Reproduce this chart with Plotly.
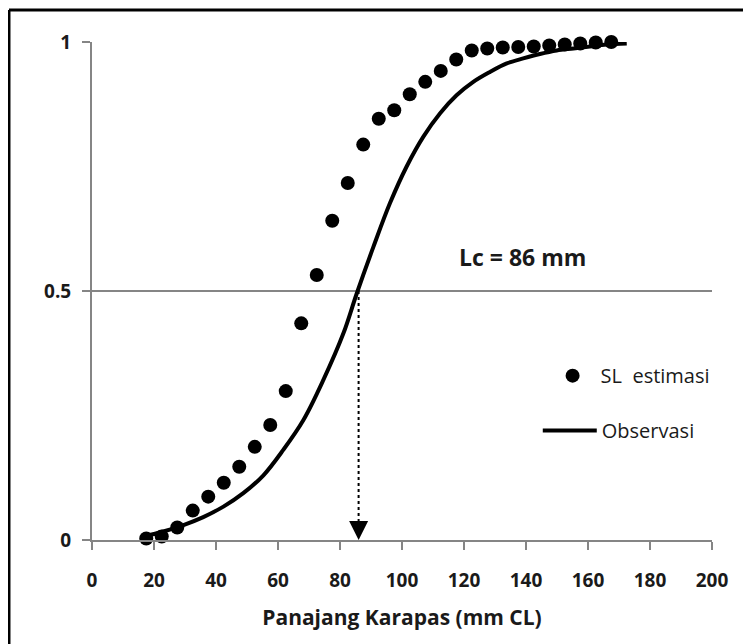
import plotly.graph_objects as go

# ---- data ----
sl_x = [17.5, 22.5, 27.5, 32.5, 37.5, 42.5, 47.5, 52.5, 57.5, 62.5, 67.5,
        72.5, 77.5, 82.5, 87.5, 92.5, 97.5, 102.5, 107.5, 112.5, 117.5,
        122.5, 127.5, 132.5, 137.5, 142.5, 147.5, 152.5, 157.5, 162.5, 167.5]
sl_y = [0.003, 0.007, 0.025, 0.059, 0.087, 0.115, 0.147, 0.187, 0.231, 0.299,
        0.435, 0.532, 0.641, 0.717, 0.794, 0.846, 0.863, 0.895, 0.920, 0.942,
        0.965, 0.983, 0.987, 0.989, 0.990, 0.991, 0.993, 0.995, 0.997, 0.999, 1.000]

obs_x = [16.6, 23.0, 29.5, 35.9, 42.4, 48.8, 55.3, 61.7, 68.2, 74.6, 81.1,
         85.4, 90.8, 96.1, 101.5, 106.9, 112.3, 117.6, 123.0, 128.4, 133.8,
         139.1, 144.5, 149.9, 155.3, 160.6, 166.0, 172.5]
obs_y = [0.007, 0.017, 0.030, 0.046, 0.067, 0.094, 0.130, 0.181, 0.241, 0.321,
         0.415, 0.495, 0.589, 0.676, 0.750, 0.810, 0.857, 0.893, 0.920, 0.940,
         0.957, 0.967, 0.976, 0.983, 0.987, 0.991, 0.995, 0.997]

Lc = 86
x_ticks = [0, 20, 40, 60, 80, 100, 120, 140, 160, 180, 200]
y_ticks = [0, 0.5, 1]
y_ticktext = ["0", "0.5", "1"]

FONT = "Open Sans"
GRID = "#858585"
TXT = "#1a1a1a"

fig = go.Figure()
fig.add_trace(go.Scatter(
    x=sl_x, y=sl_y, mode="markers", name="SL  estimasi",
    marker=dict(color="black", size=14), cliponaxis=False, legend="legend"))
fig.add_trace(go.Scatter(
    x=obs_x, y=obs_y, mode="lines", name="Observasi", line_shape="spline",
    line=dict(color="black", width=4), cliponaxis=False, legend="legend2"))

# dotted drop line at Lc
fig.add_shape(type="line", x0=Lc, x1=Lc, y0=0.5, y1=0.02, xref="x", yref="y",
              line=dict(color="black", width=2, dash="dot"))
fig.add_annotation(x=Lc, y=0, xref="x", yref="y", ax=0, ay=-18,
                   showarrow=True, arrowhead=2, arrowsize=1.9, arrowwidth=2,
                   arrowcolor="black", text="", standoff=0)
fig.add_annotation(x=139, y=0.568, xref="x", yref="y", showarrow=False,
                   text=f"<b>Lc = {Lc} mm</b>",
                   font=dict(family=FONT, size=23, color=TXT))

# frame (left and top edges)
fig.add_shape(type="line", xref="paper", yref="paper", x0=-0.1339, x1=-0.1339,
              y0=-0.25, y1=1.0643, line=dict(color="black", width=3))
fig.add_shape(type="line", xref="paper", yref="paper", x0=-0.1339, x1=1.1,
              y0=1.0643, y1=1.0643, line=dict(color="black", width=3))

TICKFONT = dict(family=FONT, size=19, color=TXT, weight="bold")

# page body adds an 8px offset, so the figure is sized/margined to compensate
fig.update_layout(
    width=743, height=636,
    margin=dict(l=84, r=39, t=34, b=104),
    paper_bgcolor="white", plot_bgcolor="white",
    font=dict(family=FONT, color=TXT),
    showlegend=True,
    legend=dict(x=0.730, y=0.33, xanchor="left", yanchor="middle", itemwidth=46,
                bgcolor="rgba(0,0,0,0)", font=dict(family=FONT, size=20, color=TXT)),
    legend2=dict(x=0.719, y=0.22, xanchor="left", yanchor="middle", itemwidth=54,
                 bgcolor="rgba(0,0,0,0)", font=dict(family=FONT, size=20, color=TXT)),
    xaxis=dict(range=[0, 200], tickvals=x_ticks, ticks="outside", ticklen=8,
               tickwidth=2, tickcolor=GRID, showline=True, linecolor=GRID,
               linewidth=2, showgrid=False, zeroline=False,
               tickfont=TICKFONT, ticklabelstandoff=14,
               title=dict(text="<b>Panajang Karapas (mm CL)</b>",
                          font=dict(family=FONT, size=21, color=TXT), standoff=19)),
    yaxis=dict(range=[0, 1], tickvals=y_ticks, ticktext=y_ticktext,
               ticks="outside", ticklen=8, tickwidth=2, tickcolor=GRID,
               showline=True, linecolor=GRID, linewidth=2,
               showgrid=True, gridcolor=GRID, gridwidth=2, zeroline=False,
               tickfont=TICKFONT, ticklabelstandoff=7),
)

fig.write_html("out.html")
